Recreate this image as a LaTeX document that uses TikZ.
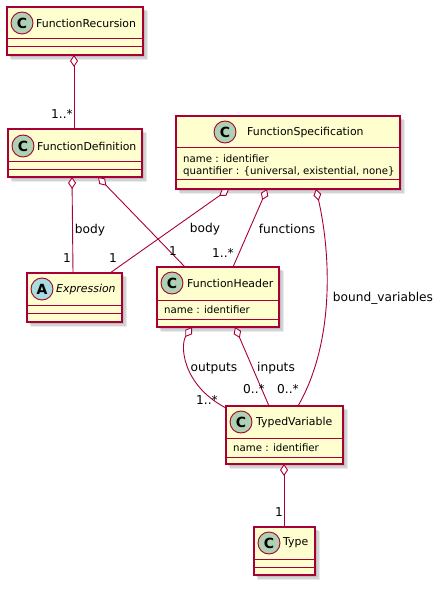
\documentclass[tikz,border=0pt]{standalone}
\usepackage{fontspec}
\setmainfont{DejaVu Sans}
\usetikzlibrary{arrows.meta,calc}
\definecolor{umlborder}{HTML}{A80036}
\definecolor{umlfill}{HTML}{FEFECE}
\definecolor{circC}{HTML}{ADD1B2}
\definecolor{circA}{HTML}{A9DCDF}
\tikzset{
  classbox/.style={draw=umlborder, fill=umlfill, line width=1.1pt, inner sep=0pt, outer sep=0pt, rectangle},
  sepline/.style={draw=umlborder, line width=1pt},
  stereo/.style={circle, draw=umlborder, line width=0.9pt, minimum size=22pt, inner sep=0pt, font=\fontsize{14}{14}\selectfont\bfseries},
  ctitle/.style={anchor=west, inner sep=0pt, font=\fontsize{10.9}{13}\selectfont},
  attr/.style={anchor=west, inner sep=0pt, font=\fontsize{10.2}{12}\selectfont},
  lbl/.style={inner sep=0pt, font=\fontsize{12.2}{14}\selectfont},
  agg/.style={draw=umlborder, line width=0.9pt, {Diamond[length=12pt, width=8pt, fill=white, line width=0.9pt]}-},
}
\newcommand{\umlclass}[5]{%
  \fill[black, opacity=0.10] ({#2+2},{#3+2}) rectangle ({#4+2},{#5+2});
  \fill[black, opacity=0.10] ({#2+3},{#3+3}) rectangle ({#4+4},{#5+4});
  \fill[black, opacity=0.08] ({#2+4},{#3+4}) rectangle ({#4+5},{#5+5});
  \node[classbox, minimum width={#4-#2}, minimum height={#5-#3}] (#1) at ({(#2+#4)/2},{(#3+#5)/2}) {};
}
\begin{document}
\begin{tikzpicture}[x=1pt, y=-1pt]
\useasboundingbox (0,0) rectangle (445,593);

% FunctionRecursion
\umlclass{FR}{7}{7}{143}{55}
\draw[sepline] (7,39) -- (143,39);
\draw[sepline] (7,47) -- (143,47);
\node[stereo, fill=circC] (FRc) at (22,23) {C};
\node[ctitle] (FRt) at (36,23) {FunctionRecursion};

% FunctionDefinition
\umlclass{FD}{8}{129}{142}{177}
\draw[sepline] (8,162) -- (142,162);
\draw[sepline] (8,170) -- (142,170);
\node[stereo, fill=circC] (FDc) at (23,146) {C};
\node[ctitle] (FDt) at (37,146) {FunctionDefinition};

% FunctionSpecification
\umlclass{FS}{176}{116}{400}{189}
\draw[sepline] (176,148) -- (400,148);
\draw[sepline] (176,180) -- (400,180);
\node[stereo, fill=circC] (FSc) at (225,132) {C};
\node[ctitle] (FSt) at (247,132) {FunctionSpecification};
\node[attr] (FSa1) at (183,159) {name : identifier};
\node[attr] (FSa2) at (183,172) {quantifier : \{universal, existential, none\}};

% Expression
\umlclass{EX}{27}{273}{122}{322}
\draw[sepline] (27,305) -- (122,305);
\draw[sepline] (27,313) -- (122,313);
\node[stereo, fill=circA] (EXc) at (42,289) {A};
\node[ctitle] (EXt) at (56,289) {\itshape Expression};

% FunctionHeader
\umlclass{FH}{157}{267}{279}{327}
\draw[sepline] (157,300) -- (279,300);
\draw[sepline] (157,319) -- (279,319);
\node[stereo, fill=circC] (FHc) at (172,283) {C};
\node[ctitle] (FHt) at (187,283) {FunctionHeader};
\node[attr] (FHa) at (164,310) {name : identifier};

% TypedVariable
\umlclass{TV}{226}{406}{343}{464}
\draw[sepline] (226,438) -- (343,438);
\draw[sepline] (226,457) -- (343,457);
\node[stereo, fill=circC] (TVc) at (241,422) {C};
\node[ctitle] (TVt) at (256,422) {TypedVariable};
\node[attr] (TVa) at (233,448) {name : identifier};

% Type
\umlclass{TY}{254}{527}{315}{575}
\draw[sepline] (254,559) -- (315,559);
\draw[sepline] (254,567) -- (315,567);
\node[stereo, fill=circC] (TYc) at (269,543) {C};
\node[ctitle] (TYt) at (283,543) {Type};

% connectors
\draw[agg] ($(FR.south west)+(67,0)$) -- ($(FD.north west)+(66,0)$);
\draw[agg] ($(FD.south west)+(64,0)$) -- ($(EX.north west)+(46,0)$);
\draw[agg] ($(FD.south west)+(90,0)$) -- ($(FH.north west)+(28,0)$);
\draw[agg] ($(FS.south west)+(53,0)$) -- ($(EX.north west)+(83,0)$);
\draw[agg] ($(FS.south west)+(91,0)$) -- ($(FH.north west)+(76,0)$);
\draw[agg] ($(FS.south west)+(140,0)$) .. controls (330,250) and (336,340) .. ($(TV.north west)+(72,0)$);
\draw[agg] ($(FH.south west)+(35,0)$) .. controls (180,345) and (182,385) .. ($(TV.north west)+(0,2)$);
\draw[agg] ($(FH.south west)+(78,0)$) -- ($(TV.north west)+(43,0)$);
\draw[agg] ($(TV.south west)+(58,0)$) -- ($(TY.north west)+(30,0)$);

% labels
\node[lbl] (l1) at (62,114) {1..*};
\node[lbl] (l2) at (90,230) {body};
\node[lbl] (l3) at (67,258) {1};
\node[lbl] (l4) at (113,258) {1};
\node[lbl] (l5) at (173,251) {1};
\node[lbl] (l6) at (205,229) {body};
\node[lbl] (l7) at (223,253) {1..*};
\node[lbl] (l8) at (287,229) {functions};
\node[lbl] (l9) at (383,298) {bound\_variables};
\node[lbl] (l10) at (214,368) {outputs};
\node[lbl] (l11) at (276,368) {inputs};
\node[lbl] (l12) at (254,389) {0..*};
\node[lbl] (l13) at (288,389) {0..*};
\node[lbl] (l14) at (207,400) {1..*};
\node[lbl] (l15) at (279,512) {1};
\end{tikzpicture}
\end{document}
